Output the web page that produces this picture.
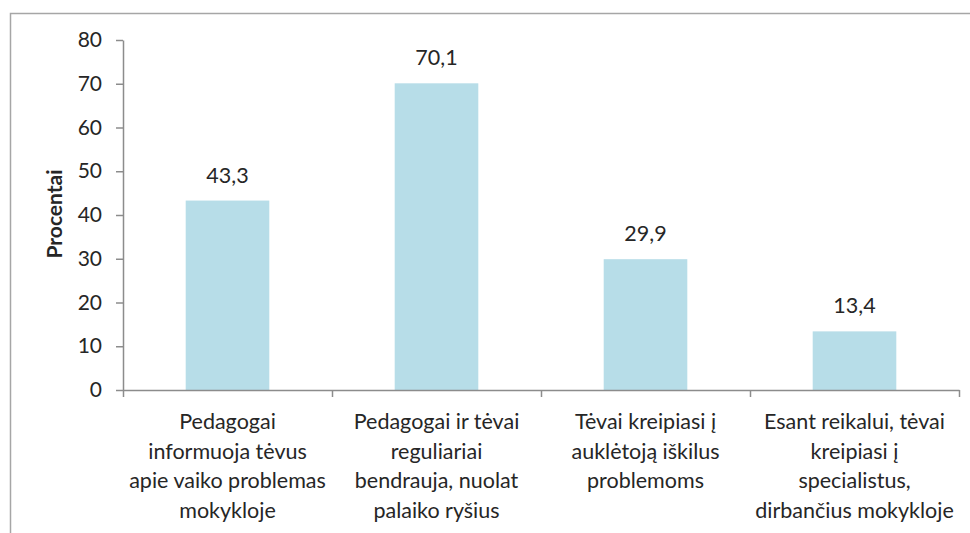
<!DOCTYPE html>
<html>
<head>
<meta charset="utf-8">
<script src="https://cdn.jsdelivr.net/npm/d3@7"></script>
<style>
  body { margin: 0; background: #fff; }
  text { font-family: Lato, 'Open Sans', sans-serif; fill: #262626; }
</style>
</head>
<body>
<div id="chart"></div>
<script>
const categories = ['c1', 'c2', 'c3', 'c4']
const labels = [
  ['Pedagogai', 'informuoja tėvus', 'apie vaiko problemas', 'mokykloje'],
  ['Pedagogai ir tėvai', 'reguliariai', 'bendrauja, nuolat', 'palaiko ryšius'],
  ['Tėvai kreipiasi į', 'auklėtoją iškilus', 'problemoms'],
  ['Esant reikalui, tėvai', 'kreipiasi į', 'specialistus,', 'dirbančius mokykloje']
]
const values = [43.3, 70.1, 29.9, 13.4]
const yTicks = [0, 10, 20, 30, 40, 50, 60, 70, 80]

const width = 970
const height = 533
const margin = { top: 40, left: 123, right: 11, bottom: 143 }
const innerW = width - margin.left - margin.right
const innerH = height - margin.top - margin.bottom

const svg = d3
  .select('#chart')
  .append('svg')
  .attr('width', width)
  .attr('height', height)

// outer frame (runs off the right and bottom edge)
svg
  .append('rect')
  .attr('x', 10.5)
  .attr('y', 13.5)
  .attr('width', 980)
  .attr('height', 540)
  .attr('fill', 'none')
  .attr('stroke', '#a6a6a6')
  .attr('stroke-width', 1.5)

const g = svg
  .append('g')
  .attr('transform', `translate(${margin.left},${margin.top})`)

const x = d3
  .scaleBand()
  .domain(categories)
  .range([0, innerW])
  .paddingInner(0.6)
  .paddingOuter(0.3)

const xEdges = d3
  .scaleLinear()
  .domain([0, categories.length])
  .range([0, innerW])

const y = d3
  .scaleLinear()
  .domain([0, 80])
  .range([innerH, 0])

g.selectAll('.bar')
  .data(values)
  .enter()
  .append('rect')
  .attr('class', 'bar')
  .attr('x', (d, i) => x(categories[i]))
  .attr('y', d => y(d))
  .attr('width', x.bandwidth())
  .attr('height', d => innerH - y(d))
  .attr('fill', '#b7dde8')

g.selectAll('.value')
  .data(values)
  .enter()
  .append('text')
  .attr('class', 'value')
  .attr('x', (d, i) => x(categories[i]) + x.bandwidth() / 2)
  .attr('y', d => y(d) - 18)
  .attr('text-anchor', 'middle')
  .style('font-size', '21.5px')
  .text(d => String(d).replace('.', ','))

const yAxis = g
  .append('g')
  .call(
    d3
      .axisLeft(y)
      .tickValues(yTicks)
      .tickSize(7)
      .tickSizeOuter(0)
      .tickPadding(14)
  )
yAxis.selectAll('path, line').attr('stroke', '#8c8c8c').attr('stroke-width', 1.5)
yAxis.selectAll('text').style('font-size', '21px').attr('fill', '#262626')

const xAxis = g
  .append('g')
  .attr('transform', `translate(0,${innerH})`)
  .call(
    d3
      .axisBottom(xEdges)
      .tickValues(d3.range(categories.length + 1))
      .tickSize(7)
      .tickSizeOuter(0)
      .tickFormat('')
  )
xAxis.selectAll('path, line').attr('stroke', '#8c8c8c').attr('stroke-width', 1.5)

g.selectAll('.cat')
  .data(labels)
  .enter()
  .append('text')
  .attr('class', 'cat')
  .attr('text-anchor', 'middle')
  .style('font-size', '21.5px')
  .attr('transform', (d, i) => `translate(${x(categories[i]) + x.bandwidth() / 2},${innerH + 39})`)
  .selectAll('tspan')
  .data(d => d)
  .enter()
  .append('tspan')
  .attr('x', 0)
  .attr('y', (d, i) => i * 29.5)
  .text(d => d)

svg
  .append('text')
  .attr('transform', 'translate(62,214) rotate(-90)')
  .attr('text-anchor', 'middle')
  .style('font-size', '21px')
  .style('font-weight', 'bold')
  .attr('fill', '#000')
  .text('Procentai')
</script>
</body>
</html>
